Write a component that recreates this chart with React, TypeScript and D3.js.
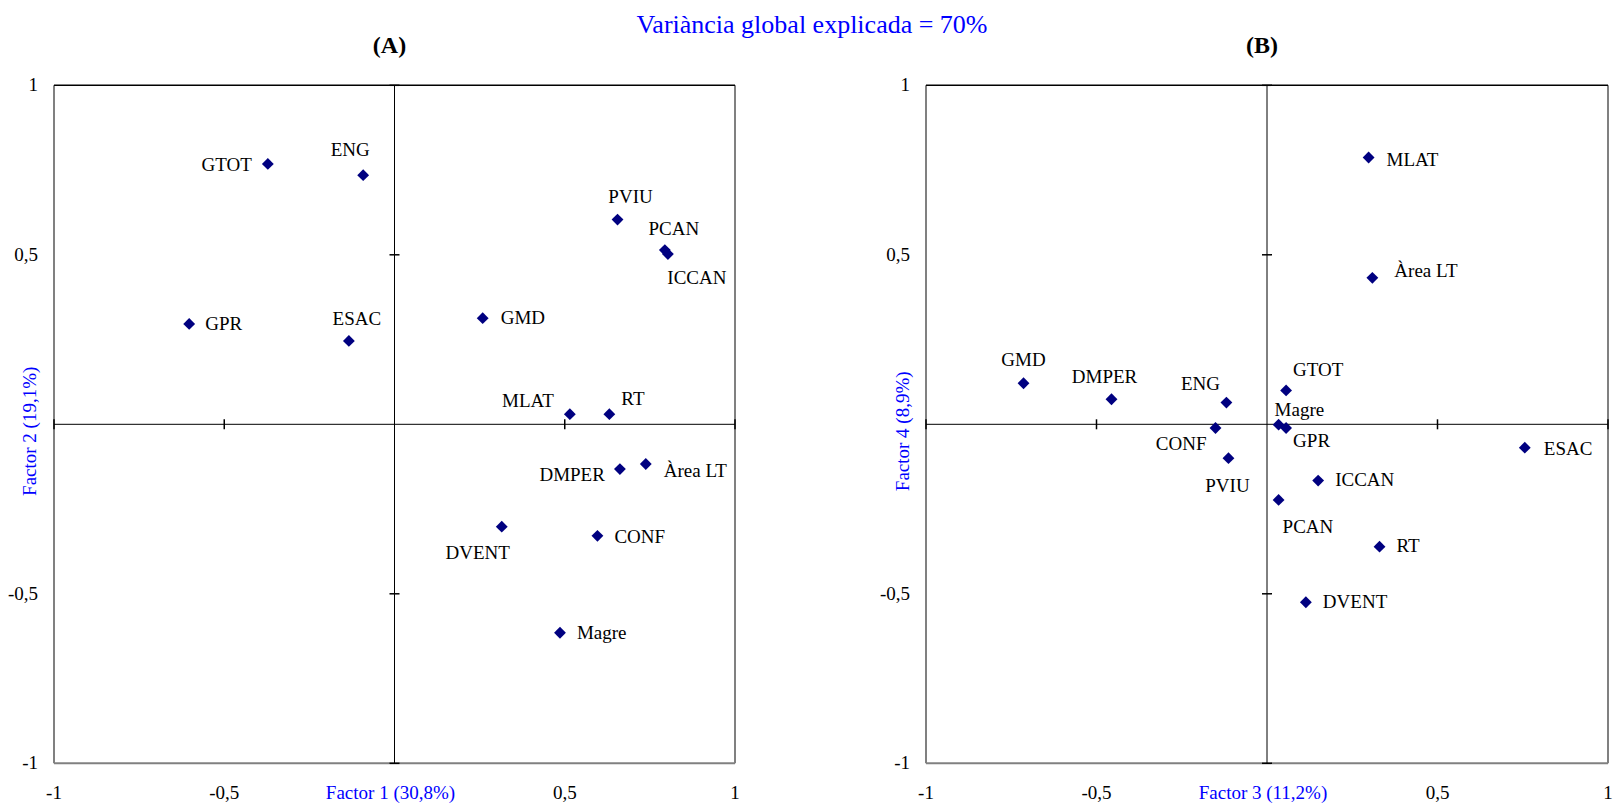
import React from "react";
import * as d3 from "d3";

// Panel A: Factor 1 x Factor 2
const namesA = ["GTOT", "ENG", "GPR", "ESAC", "PVIU", "PCAN", "ICCAN", "GMD", "MLAT", "RT", "DMPER", "Àrea LT", "DVENT", "CONF", "Magre"];
const factor1 = [-0.372, -0.092, -0.603, -0.134, 0.655, 0.794, 0.803, 0.259, 0.515, 0.631, 0.662, 0.738, 0.315, 0.596, 0.486];
const factor2 = [0.768, 0.735, 0.296, 0.246, 0.604, 0.514, 0.502, 0.313, 0.03, 0.03, -0.132, -0.117, -0.302, -0.329, -0.615];

// Panel B: Factor 3 x Factor 4
const namesB = ["GMD", "DMPER", "ENG", "GTOT", "Magre", "GPR", "CONF", "PVIU", "ICCAN", "PCAN", "RT", "DVENT", "MLAT", "Àrea LT", "ESAC"];
const factor3 = [-0.714, -0.456, -0.119, 0.056, 0.034, 0.056, -0.151, -0.113, 0.15, 0.034, 0.33, 0.114, 0.298, 0.309, 0.756];
const factor4 = [0.121, 0.074, 0.064, 0.1, -0.001, -0.011, -0.011, -0.1, -0.166, -0.223, -0.361, -0.525, 0.787, 0.432, -0.069];

const ticks = [-1, -0.5, 0, 0.5, 1];
const tickText = ["-1", "-0,5", "", "0,5", "1"];

const titleText = "Variància global explicada = 70%";

// label placement next to each marker: [dx, dy, anchor]
type Place = [number, number, string];
const placeA: Record<string, Place> = {
  GTOT: [-16, 7, "end"],
  ENG: [-13, -19, "middle"],
  GPR: [16, 6, "start"],
  ESAC: [8, -16, "middle"],
  PVIU: [13, -17, "middle"],
  PCAN: [9, -15, "middle"],
  ICCAN: [29, 30, "middle"],
  GMD: [18, 6, "start"],
  MLAT: [-16, -7, "end"],
  RT: [12, -9, "start"],
  DMPER: [-15, 12, "end"],
  "Àrea LT": [18, 13, "start"],
  DVENT: [-24, 32, "middle"],
  CONF: [17, 7, "start"],
  Magre: [17, 6, "start"],
};
const placeB: Record<string, Place> = {
  GMD: [0, -17, "middle"],
  DMPER: [-7, -16, "middle"],
  ENG: [-26, -13, "middle"],
  GTOT: [7, -14, "start"],
  Magre: [-4, -9, "start"],
  GPR: [7, 19, "start"],
  CONF: [-9, 22, "end"],
  PVIU: [-1, 34, "middle"],
  ICCAN: [17, 5, "start"],
  PCAN: [4, 33, "start"],
  RT: [17, 5, "start"],
  DVENT: [17, 6, "start"],
  MLAT: [18, 8, "start"],
  "Àrea LT": [22, -1, "start"],
  ESAC: [19, 7, "start"],
};

const FONT = "Liberation Serif, Tinos, Times New Roman, DejaVu Serif, serif";
const BLUE = "#0000ff";
const NAVY = "#000080";
const diamond = d3.symbol().type(d3.symbolSquare).size(70)() as string;

type PanelProps = {
  names: string[];
  xs: number[];
  ys: number[];
  place: Record<string, Place>;
  x0: number;
  x1: number;
  tag: string;
  xTitle: string;
  yTitle: string;
  yTitleX: number;
};

const Panel = ({ names, xs, ys, place, x0, x1, tag, xTitle, yTitle, yTitleX }: PanelProps) => {
  const top = 85.3;
  const bottom = 763.3;
  const x = d3.scaleLinear().domain([-1, 1]).range([x0, x1]);
  const y = d3.scaleLinear().domain([-1, 1]).range([bottom, top]);
  const cx = x(0);
  const cy = y(0);

  return (
    <g>
      <text x={cx - 5} y={53} textAnchor="middle" fontSize={24} fontWeight="bold">{tag}</text>

      {/* frame */}
      <line x1={x0} x2={x0} y1={top} y2={bottom} stroke="#808080" strokeWidth={2} />
      <line x1={x1} x2={x1} y1={top} y2={bottom} stroke="#808080" strokeWidth={2} />
      <line x1={x0} x2={x1} y1={bottom} y2={bottom} stroke="#808080" strokeWidth={2} />
      <line x1={x0} x2={x1} y1={top} y2={top} stroke="#000" strokeWidth={1.5} />

      {/* zero axes */}
      <line x1={x0} x2={x1} y1={cy} y2={cy} stroke="#000" strokeWidth={1} />
      <line x1={cx} x2={cx} y1={top} y2={bottom} stroke="#000" strokeWidth={1} />
      {ticks.map((t) => (
        <g key={"t" + t}>
          <line x1={x(t)} x2={x(t)} y1={cy - 5} y2={cy + 5} stroke="#000" strokeWidth={t === 0 ? 0 : 1.5} />
          <line x1={cx - 5} x2={cx + 5} y1={y(t)} y2={y(t)} stroke="#000" strokeWidth={t === 0 ? 0 : 1.5} />
        </g>
      ))}

      {/* tick labels */}
      {ticks.map((t, i) => (
        <text key={"xl" + t} x={x(t)} y={799} textAnchor="middle" fontSize={19}>{tickText[i]}</text>
      ))}
      {ticks.map((t, i) => (
        <text key={"yl" + t} x={x0 - 16} y={y(t) + 6} textAnchor="end" fontSize={19}>{tickText[i]}</text>
      ))}

      <text x={cx - 4} y={799} textAnchor="middle" fontSize={19} fill={BLUE}>{xTitle}</text>
      <text transform={`translate(${yTitleX},${cy + 7}) rotate(-90)`} textAnchor="middle" fontSize={19} fill={BLUE}>{yTitle}</text>

      {/* points */}
      {names.map((n, i) => {
        const px = x(xs[i]);
        const py = y(ys[i]);
        const p = place[n];
        return (
          <g key={n}>
            <path d={diamond} transform={`translate(${px},${py}) rotate(45)`} fill={NAVY} />
            <text x={px + p[0]} y={py + p[1]} textAnchor={p[2]} fontSize={19}>{n}</text>
          </g>
        );
      })}
    </g>
  );
};

export default function App() {
  return (
    <div style={{ position: "absolute", left: 0, top: 0 }}>
      <svg width={1614} height={803} style={{ display: "block", background: "#fff", fontFamily: FONT }}>
        <text x={812} y={33} textAnchor="middle" fontSize={26} fill={BLUE}>{titleText}</text>
        <Panel names={namesA} xs={factor1} ys={factor2} place={placeA} x0={54} x1={735}
          tag="(A)" xTitle="Factor 1 (30,8%)" yTitle="Factor 2 (19,1%)" yTitleX={36} />
        <Panel names={namesB} xs={factor3} ys={factor4} place={placeB} x0={926} x1={1608}
          tag="(B)" xTitle="Factor 3 (11,2%)" yTitle="Factor 4 (8,9%)" yTitleX={909} />
      </svg>
    </div>
  );
}
